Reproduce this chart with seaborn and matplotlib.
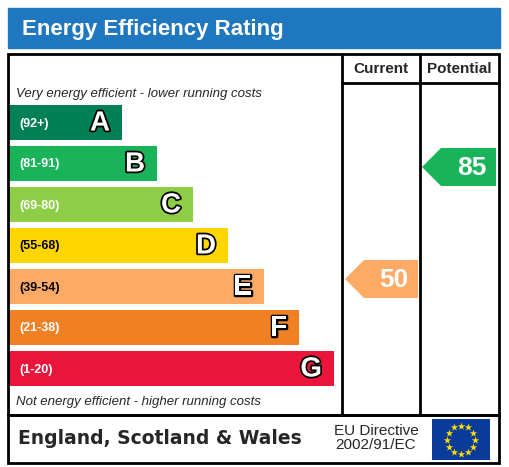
import numpy as np
import pandas as pd
import seaborn as sns
import matplotlib
matplotlib.use("Agg")
import matplotlib.pyplot as plt
from matplotlib.patches import Rectangle, Polygon
import matplotlib.patheffects as pe

bands = ["A", "B", "C", "D", "E", "F", "G"]
ranges = ["(92+)", "(81-91)", "(69-80)", "(55-68)", "(39-54)", "(21-38)", "(1-20)"]
bar_lengths = [114, 149, 185, 220, 256, 291, 326]
colors = ["#008054", "#19b459", "#8dce46", "#ffd500", "#fcaa65", "#ef8023", "#e9153b"]
current = 50
current_band = "E"
potential = 85
potential_band = "B"

sns.set_style("white")
plt.rcParams['font.family'] = ['Liberation Sans', 'DejaVu Sans']
fig = plt.figure(figsize=(5.09, 4.67), dpi=100)
ax = fig.add_axes([0, 0, 1, 1])
ax.set_xlim(0, 509); ax.set_ylim(467, 0); ax.axis("off")

centers = [122.5 + 41 * i for i in range(7)]
df = pd.DataFrame({"len": bar_lengths, "y": centers, "band": bands})
sns.barplot(data=df, x="len", y="y", hue="band", palette=colors, orient="h", saturation=1,
            native_scale=True, width=35/41, legend=False, ax=ax, linewidth=0)
for p in ax.patches:
    p.set_x(8)

# header
ax.add_patch(Rectangle((8, 8), 492, 40, color="#1f77c0"))
ax.text(22, 29, "Energy Efficiency Rating", color="white", fontsize=16, fontweight="bold", va="center")

lw = 2
ax.add_patch(Rectangle((8, 54), 491, 361, fill=False, lw=lw, ec="black"))
ax.add_patch(Rectangle((8, 415), 491, 48, fill=False, lw=lw, ec="black"))
ax.plot([342, 342], [54, 415], color="black", lw=lw)
ax.plot([420, 420], [54, 415], color="black", lw=lw)
ax.plot([342, 499], [83, 83], color="black", lw=lw)
ax.text(381, 69, "Current", fontsize=11, fontweight="bold", ha="center", va="center")
ax.text(459, 69, "Potential", fontsize=11, fontweight="bold", ha="center", va="center")
ax.text(16, 94, "Very energy efficient - lower running costs", fontsize=9.5, style="italic", va="center")
ax.text(16, 402, "Not energy efficient - higher running costs", fontsize=9.5, style="italic", va="center")

for i, (b, r, L) in enumerate(zip(bands, ranges, bar_lengths)):
    y = centers[i]
    ax.text(19, y + 1, r, color="white" if i < 3 or i > 4 else "black", fontsize=9, fontweight="bold", va="center")
    t = ax.text(8 + L - 12, y + 1, b, color="white", fontsize=20, fontweight="bold", ha="right", va="center")
    t.set_path_effects([pe.withStroke(linewidth=2.5, foreground="black")])

def arrow(x0, x1, yc, val, band):
    col = colors[bands.index(band)]
    h = 19
    ax.add_patch(Polygon([(x0, yc), (x0 + 19, yc - h), (x1, yc - h), (x1, yc + h), (x0 + 19, yc + h)],
                         closed=True, color=col, lw=0))
    ax.text((x0 + 19 + x1) / 2 + 3, yc + 1, str(val), color="white", fontsize=19, fontweight="bold",
            ha="center", va="center")

arrow(345, 418, 279, current, current_band)
arrow(422, 496, 167, potential, potential_band)

ax.text(18, 439, "England, Scotland & Wales", fontsize=13.5, fontweight="bold", va="center",
        family=["DejaVu Sans"])
ax.text(376, 438, "EU Directive\n2002/91/EC", fontsize=11, ha="center", va="center", linespacing=1.05)
ax.add_patch(Rectangle((432, 419), 58, 41, color="#0a3a9a", lw=0))
ang = np.linspace(0, 2 * np.pi, 13)[:-1]
ax.scatter(461 + 14 * np.cos(ang), 439.5 + 14 * np.sin(ang), marker="*", s=32, color="#ffde00", zorder=5, lw=0)
fig.savefig("out.png", dpi=100)
